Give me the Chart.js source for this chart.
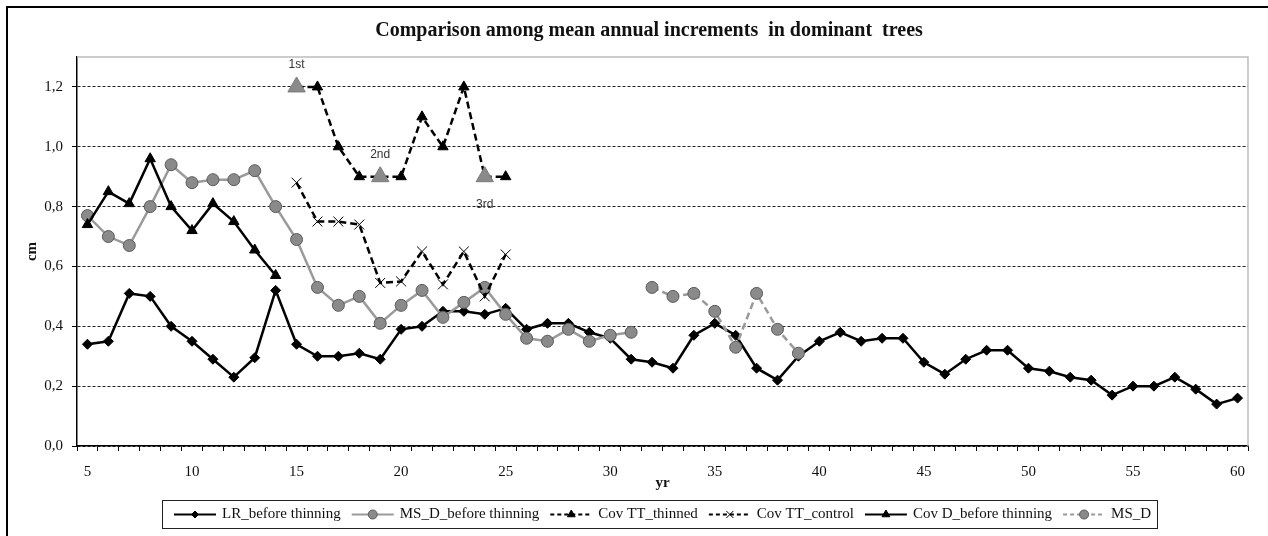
<!DOCTYPE html>
<html>
<head>
<meta charset="utf-8">
<title>Comparison among mean annual increments in dominant trees</title>
<script src="https://cdn.jsdelivr.net/npm/chart.js@4/dist/chart.umd.min.js"></script>
<style>
  html, body { margin: 0; padding: 0; background: #fff; }
  canvas { display: block; }
</style>
</head>
<body>
<canvas id="chart" width="1268" height="536"></canvas>
<script>
// Stand age (years) on the category axis
const years = [5, 6, 7, 8, 9, 10, 11, 12, 13, 14, 15, 16, 17, 18, 19, 20, 21, 22, 23, 24, 25,
  26, 27, 28, 29, 30, 31, 32, 33, 34, 35, 36, 37, 38, 39, 40, 41, 42, 43, 44, 45, 46, 47, 48,
  49, 50, 51, 52, 53, 54, 55, 56, 57, 58, 59, 60];

// Mean annual increments (cm); each series starts at the year given next to it
const lrBeforeThinningStart = 5;
const lrBeforeThinning = [0.34, 0.35, 0.51, 0.50, 0.40, 0.35, 0.29, 0.23, 0.295, 0.52,
  0.34, 0.30, 0.30, 0.31, 0.29, 0.39, 0.40, 0.45, 0.45, 0.44, 0.46, 0.39, 0.41, 0.41,
  0.38, 0.36, 0.29, 0.28, 0.26, 0.37, 0.41, 0.37, 0.26, 0.22, 0.30, 0.35, 0.38, 0.35,
  0.36, 0.36, 0.28, 0.24, 0.29, 0.32, 0.32, 0.26, 0.25, 0.23, 0.22, 0.17, 0.20, 0.20,
  0.23, 0.19, 0.14, 0.16];

const msdBeforeThinningStart = 5;
const msdBeforeThinning = [0.77, 0.70, 0.67, 0.80, 0.94, 0.88, 0.89, 0.89, 0.92, 0.80,
  0.69, 0.53, 0.47, 0.50, 0.41, 0.47, 0.52, 0.43, 0.48, 0.53, 0.44, 0.36, 0.35, 0.39,
  0.35, 0.37, 0.38];

const covTTThinnedStart = 15;
const covTTThinned = [1.20, 1.20, 1.00, 0.90, 0.90, 0.90, 1.10, 1.00, 1.20, 0.90, 0.90];

const covTTControlStart = 15;
const covTTControl = [0.88, 0.75, 0.75, 0.74, 0.545, 0.55, 0.65, 0.54, 0.65, 0.50, 0.64];

const covDBeforeThinningStart = 5;
const covDBeforeThinning = [0.74, 0.85, 0.81, 0.96, 0.80, 0.72, 0.81, 0.75, 0.655, 0.57];

const msdStart = 32;
const msd = [0.53, 0.50, 0.51, 0.45, 0.33, 0.51, 0.39, 0.31];

// Thinning interventions marked on the Cov TT_thinned series
const thinningYears = [15, 19, 24];
const thinningLabels = ['1st', '2nd', '3rd'];
const thinningLabelSide = ['above', 'above', 'below'];

// Y axis ticks
const yTicks = [0, 0.2, 0.4, 0.6, 0.8, 1.0, 1.2];

// Place a series on the full year axis, leaving gaps elsewhere
function onYearAxis(values, start) {
  return years.map(y => {
    const i = y - start;
    return i >= 0 && i < values.length ? values[i] : null;
  });
}

const BLACK = '#000000';
const GREY_LINE = '#9a9a9a';
const GREY_FILL = '#8a8a8a';
const GREY_EDGE = '#5a5a5a';
const DASH = [7, 4];
const SERIF = '"Liberation Serif", "Times New Roman", serif';

const thinnedPointRadius = years.map(y => thinningYears.includes(y) ? 10 : 6);
const thinnedPointFill = years.map(y => thinningYears.includes(y) ? GREY_FILL : BLACK);
const thinnedPointEdge = years.map(y => thinningYears.includes(y) ? '#7a7a7a' : BLACK);

const datasets = [
  {
    label: 'LR_before thinning',
    data: onYearAxis(lrBeforeThinning, lrBeforeThinningStart),
    borderColor: BLACK, borderWidth: 2.5,
    pointStyle: 'rectRot', pointRadius: 5,
    pointBackgroundColor: BLACK, pointBorderColor: BLACK, pointBorderWidth: 1,
    order: 6
  },
  {
    label: 'MS_D_before thinning',
    data: onYearAxis(msdBeforeThinning, msdBeforeThinningStart),
    borderColor: GREY_LINE, borderWidth: 2.5,
    pointStyle: 'circle', pointRadius: 6,
    pointBackgroundColor: GREY_FILL, pointBorderColor: GREY_EDGE, pointBorderWidth: 1,
    order: 5
  },
  {
    label: 'Cov TT_thinned',
    data: onYearAxis(covTTThinned, covTTThinnedStart),
    borderColor: BLACK, borderWidth: 2.5, borderDash: DASH,
    pointStyle: 'triangle', pointRadius: thinnedPointRadius,
    pointBackgroundColor: thinnedPointFill, pointBorderColor: thinnedPointEdge, pointBorderWidth: 1,
    order: 4
  },
  {
    label: 'Cov TT_control',
    data: onYearAxis(covTTControl, covTTControlStart),
    borderColor: BLACK, borderWidth: 2.5, borderDash: DASH,
    pointStyle: 'crossRot', pointRadius: 7,
    pointBackgroundColor: BLACK, pointBorderColor: BLACK, pointBorderWidth: 1,
    order: 3
  },
  {
    label: 'Cov D_before thinning',
    data: onYearAxis(covDBeforeThinning, covDBeforeThinningStart),
    borderColor: BLACK, borderWidth: 2.5,
    pointStyle: 'triangle', pointRadius: 6,
    pointBackgroundColor: BLACK, pointBorderColor: BLACK, pointBorderWidth: 1,
    order: 2
  },
  {
    label: 'MS_D',
    data: onYearAxis(msd, msdStart),
    borderColor: GREY_LINE, borderWidth: 2.5, borderDash: DASH,
    pointStyle: 'circle', pointRadius: 6,
    pointBackgroundColor: GREY_FILL, pointBorderColor: GREY_EDGE, pointBorderWidth: 1,
    order: 1
  }
];

// Frame, title, thinning annotations and the boxed legend below the axis
const decorations = {
  id: 'decorations',
  afterDraw(chart) {
    const ctx = chart.ctx;
    const area = chart.chartArea;
    const xs = chart.scales.x;
    const ys = chart.scales.y;

    ctx.save();
    // outer frame
    ctx.strokeStyle = '#000';
    ctx.lineWidth = 2;
    ctx.beginPath();
    ctx.moveTo(7, 536);
    ctx.lineTo(7, 7);
    ctx.lineTo(1268, 7);
    ctx.stroke();

    // light plot-area border on top and right
    ctx.strokeStyle = '#bdbdbd';
    ctx.lineWidth = 1.5;
    ctx.beginPath();
    ctx.moveTo(area.left, area.top);
    ctx.lineTo(area.right, area.top);
    ctx.lineTo(area.right, area.bottom);
    ctx.stroke();

    // title
    ctx.fillStyle = '#111';
    ctx.font = 'bold 20px ' + SERIF;
    ctx.textAlign = 'center';
    ctx.textBaseline = 'middle';
    ctx.fillText('Comparison among mean annual increments  in dominant  trees', 649, 31);

    // thinning labels
    ctx.font = '12px "Liberation Sans", Arial, sans-serif';
    ctx.fillStyle = '#333';
    thinningYears.forEach((yr, i) => {
      const v = covTTThinned[yr - covTTThinnedStart];
      const px = xs.getPixelForValue(years.indexOf(yr));
      const py = ys.getPixelForValue(v);
      const dy = thinningLabelSide[i] === 'above' ? -22 : 28;
      ctx.fillText(thinningLabels[i], px, py + dy);
    });

    // legend
    ctx.font = '15px ' + SERIF;
    const sampleW = 42, gapText = 6, gapItem = 11, padL = 12, padR = 6;
    const widths = datasets.map(d => ctx.measureText(d.label).width);
    const total = padL + padR + widths.reduce((a, w) => a + sampleW + gapText + w, 0) + gapItem * (datasets.length - 1);
    const boxL = Math.round(660 - total / 2);
    const boxT = 500, boxH = 28;
    ctx.strokeStyle = '#222';
    ctx.lineWidth = 1;
    ctx.strokeRect(boxL + 0.5, boxT + 0.5, Math.round(total), boxH);
    const cy = boxT + boxH / 2 + 0.5;
    let x = boxL + padL;
    datasets.forEach((d, i) => {
      ctx.save();
      ctx.strokeStyle = d.borderColor;
      ctx.lineWidth = 2;
      ctx.setLineDash(d.borderDash ? [4, 3] : []);
      ctx.beginPath();
      ctx.moveTo(x, cy);
      ctx.lineTo(x + sampleW, cy);
      ctx.stroke();
      ctx.setLineDash([]);
      const fill = Array.isArray(d.pointBackgroundColor) ? BLACK : d.pointBackgroundColor;
      ctx.fillStyle = fill;
      ctx.strokeStyle = d.pointBorderColor === GREY_EDGE ? GREY_EDGE : BLACK;
      ctx.lineWidth = 1;
      const r = d.pointStyle === 'rectRot' ? 3.5 : d.pointStyle === 'crossRot' ? 5 : 4.5;
      Chart.helpers.drawPoint(ctx, { pointStyle: d.pointStyle, radius: r, rotation: 0, borderWidth: 1 }, x + sampleW / 2, cy);
      ctx.restore();
      ctx.fillStyle = '#111';
      ctx.textAlign = 'left';
      ctx.textBaseline = 'middle';
      ctx.fillText(d.label, x + sampleW + gapText, cy);
      x += sampleW + gapText + widths[i] + gapItem;
    });
    ctx.restore();
  }
};

new Chart(document.getElementById('chart'), {
  type: 'line',
  data: { labels: years, datasets },
  plugins: [decorations],
  options: {
    responsive: false,
    animation: false,
    spanGaps: false,
    layout: { padding: { top: 57, right: 20, bottom: 44, left: 7 } },
    plugins: {
      legend: { display: false },
      title: { display: false },
      tooltip: { enabled: false }
    },
    elements: { line: { tension: 0 } },
    scales: {
      x: {
        type: 'category',
        offset: true,
        grid: {
          offset: true,
          drawOnChartArea: false,
          drawTicks: true,
          tickLength: 5,
          color: '#000',
          lineWidth: 1
        },
        border: { color: '#000', width: 1.5 },
        ticks: {
          autoSkip: false,
          maxRotation: 0,
          padding: 12,
          color: '#111',
          font: { family: SERIF, size: 15 },
          callback: function (value) {
            const yr = years[value];
            return yr % 5 === 0 ? String(yr) : '';
          }
        },
        title: {
          display: true,
          text: 'yr',
          color: '#111',
          font: { family: SERIF, size: 15, weight: 'bold' },
          padding: { top: 0, bottom: 0 }
        },
        afterFit: s => { s.height = 46; }
      },
      y: {
        min: 0,
        max: 1.3,
        afterBuildTicks: s => { s.ticks = yTicks.map(v => ({ value: v })); },
        grid: {
          color: '#222',
          lineWidth: 1,
          tickLength: 5,
          tickBorderDash: [],
          tickColor: '#000'
        },
        border: { color: '#000', width: 1.5, dash: [3, 2] },
        ticks: {
          padding: 9,
          color: '#111',
          font: { family: SERIF, size: 15 },
          callback: v => v.toFixed(1).replace('.', ',')
        },
        title: {
          display: true,
          text: 'cm',
          color: '#111',
          font: { family: SERIF, size: 15, weight: 'bold' },
          padding: { top: 16, bottom: 0 }
        },
        afterFit: s => { s.width = 70; }
      }
    }
  }
});
</script>
</body>
</html>
